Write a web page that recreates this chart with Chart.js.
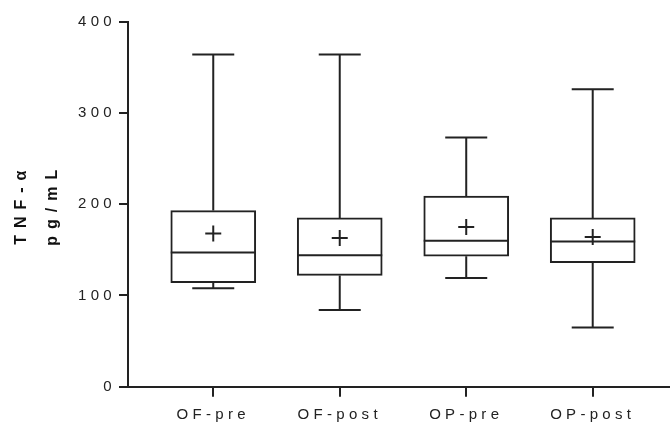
<!DOCTYPE html>
<html>
<head>
<meta charset="utf-8">
<script src="https://cdn.jsdelivr.net/npm/chart.js@4/dist/chart.umd.min.js"></script>
<style>
  html, body { margin: 0; padding: 0; background: #fff; }
  #wrap { width: 670px; height: 427px; position: relative; }
</style>
</head>
<body>
<div id="wrap"><canvas id="boxChart"></canvas></div>
<script>
// datos
const categorias = ['OF-pre', 'OF-post', 'OP-pre', 'OP-post'];
const minimos = [108, 84, 119, 65];
const cuartil1 = [114, 122, 143, 136];
const medianas = [147, 144, 160, 159];
const cuartil3 = [193, 185, 209, 185];
const maximos = [364, 364, 273, 326];
const medias = [168, 163, 175, 164];
const ticksY = [0, 100, 200, 300, 400];

const colorLinea = '#222';

// bigotes, topes y mediana sobre cada caja
const pluginBigotes = {
    id: 'bigotes',
    beforeDraw(chart) {
        // titulo del eje (capa de la rejilla) va mas espaciado
        chart.ctx.letterSpacing = '7px';
    },
    afterDatasetsDraw(chart) {
        const ctx = chart.ctx;
        const y = chart.scales.y;
        const cajas = chart.getDatasetMeta(0).data;
        ctx.save();
        ctx.strokeStyle = colorLinea;
        ctx.lineWidth = 2;
        cajas.forEach((caja, i) => {
            const x = caja.x;
            const medio = caja.width / 2;
            const tope = 21;
            const yMax = y.getPixelForValue(maximos[i]);
            const yMin = y.getPixelForValue(minimos[i]);
            const yQ1 = y.getPixelForValue(cuartil1[i]);
            const yQ3 = y.getPixelForValue(cuartil3[i]);
            const yMed = y.getPixelForValue(medianas[i]);
            ctx.beginPath();
            ctx.moveTo(x, yQ3); ctx.lineTo(x, yMax);
            ctx.moveTo(x - tope, yMax); ctx.lineTo(x + tope, yMax);
            ctx.moveTo(x, yQ1); ctx.lineTo(x, yMin);
            ctx.moveTo(x - tope, yMin); ctx.lineTo(x + tope, yMin);
            ctx.moveTo(x - medio, yMed); ctx.lineTo(x + medio, yMed);
            ctx.stroke();
        });
        ctx.restore();
        // etiquetas de los ejes (z = 1) se dibujan despues
        ctx.letterSpacing = '4.3px';
    }
};

const ctx = document.getElementById('boxChart').getContext('2d');
new Chart(ctx, {
    type: 'bar',
    data: {
        datasets: [{
            type: 'bar',
            order: 1,
            data: categorias.map((c, i) => ({ x: i + 1, y: [cuartil1[i], cuartil3[i]] })),
            backgroundColor: '#fff',
            borderColor: colorLinea,
            borderWidth: 2,
            borderSkipped: false,
            barThickness: 85
        }, {
            type: 'scatter',
            order: 0,
            data: categorias.map((c, i) => ({ x: i + 1, y: medias[i] })),
            pointStyle: 'cross',
            pointRadius: 8,
            pointBorderWidth: 2,
            borderColor: colorLinea,
            backgroundColor: colorLinea
        }]
    },
    options: {
        responsive: true,
        maintainAspectRatio: false,
        animation: false,
        layout: { autoPadding: false, padding: { top: 21.7, right: 0, left: 0, bottom: 0 } },
        plugins: { legend: { display: false }, tooltip: { enabled: false } },
        scales: {
            x: {
                type: 'linear',
                offset: false,
                min: 0.326,
                max: 4.611,
                afterBuildTicks: (s) => { s.ticks = categorias.map((c, i) => ({ value: i + 1 })); },
                afterFit: (s) => { s.height = 40.3; s.paddingLeft = 0; s.paddingRight = 0; },
                ticks: {
                    z: 1,
                    callback: (v) => categorias[v - 1],
                    color: colorLinea,
                    font: { family: "'Liberation Sans', Arial", size: 15 },
                    padding: 9,
                    maxRotation: 0,
                    autoSkip: false
                },
                grid: { offset: false, drawOnChartArea: false, drawTicks: true, tickLength: 10, color: colorLinea, lineWidth: 2 },
                border: { display: true, color: colorLinea, width: 2 }
            },
            y: {
                min: 0,
                max: 400,
                afterBuildTicks: (s) => { s.ticks = ticksY.map(v => ({ value: v })); },
                afterFit: (s) => { s.width = 128; },
                ticks: {
                    z: 1,
                    color: colorLinea,
                    font: { family: "'Liberation Sans', Arial", size: 15 },
                    padding: 3
                },
                grid: { drawOnChartArea: false, drawTicks: true, tickLength: 9, color: colorLinea, lineWidth: 2 },
                border: { display: true, color: colorLinea, width: 2 },
                title: {
                    display: true,
                    text: ['TNF-α', 'pg/mL'],
                    color: '#111',
                    font: { family: "'Liberation Sans', Arial", size: 16, weight: 'bold', lineHeight: 1.94 },
                    padding: { top: 6, bottom: 0 }
                }
            }
        }
    },
    plugins: [pluginBigotes]
});
</script>
</body>
</html>
